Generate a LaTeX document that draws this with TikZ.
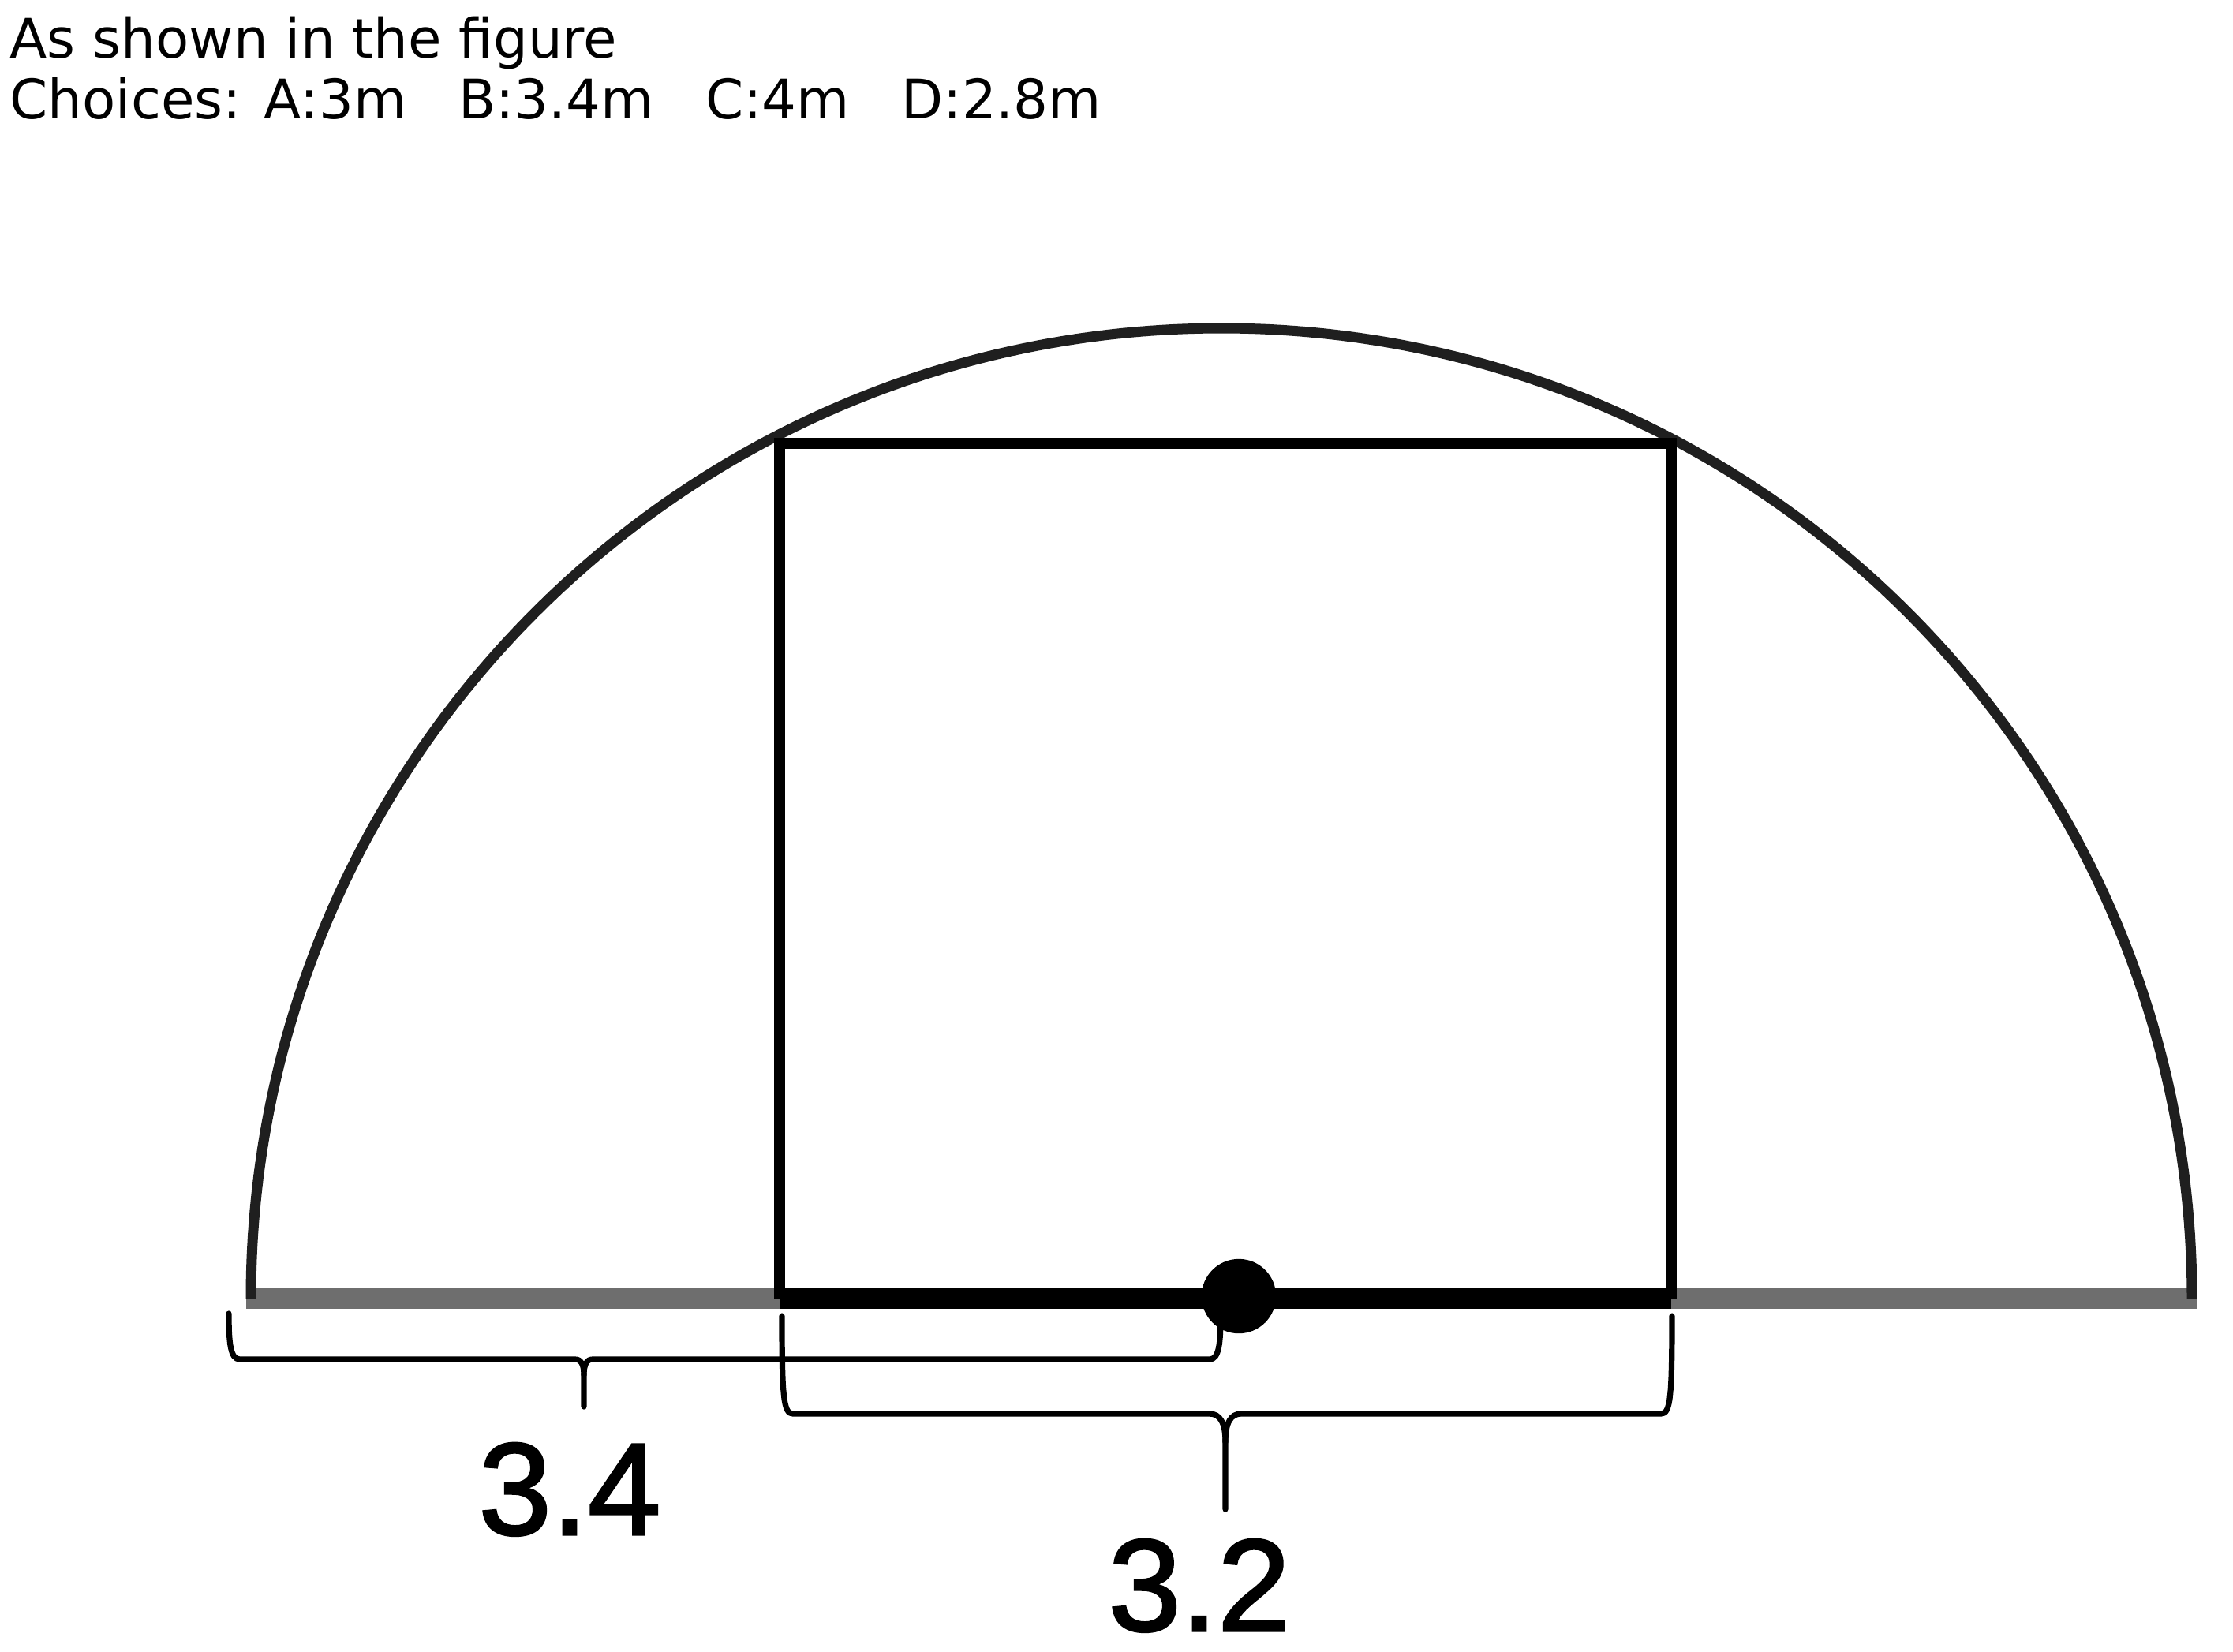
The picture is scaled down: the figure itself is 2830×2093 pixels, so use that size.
\documentclass[tikz,border=0pt]{standalone}
\usepackage{fontspec}
\setmainfont{DejaVu Sans}
\newfontfamily\labelfont[FakeBold=1.8]{Liberation Sans}
\newcommand{\bracedraw}[8]{%
  % #1 x1, #2 x2, #3 ytop, #4 yh, #5 xm, #6 ytip, #7 cusp half width, #8 cusp depth
  \draw[bracel] (#1,#3) .. controls (#1,#4-20) and (#1+2,#4) .. (#1+14,#4)
    -- (#5-#7,#4) .. controls (#5-#7*0.35,#4) and (#5,#4+#8*0.3) .. (#5,#4+#8)
    -- (#5,#6);
  \draw[bracel] (#5,#4+#8) .. controls (#5,#4+#8*0.3) and (#5+#7*0.35,#4) .. (#5+#7,#4)
    -- (#2-14,#4) .. controls (#2-2,#4) and (#2,#4-20) .. (#2,#3);
}
\begin{document}
\begin{tikzpicture}[x=0.25pt,y=-0.25pt,
  titletext/.style={anchor=base west,inner sep=0pt,font=\fontsize{17.25}{20}\selectfont},
  dimlabel/.style={anchor=base,inner sep=0pt,font=\labelfont\fontsize{41.5}{48}\selectfont},
  arcline/.style={line width=3.25pt,draw=black!88},
  baseline/.style={line width=6.3pt,draw=black!57},
  rectline/.style={line width=3.4pt,draw=black},
  bracel/.style={line width=1.8pt,draw=black,line cap=round,line join=round},
]
\useasboundingbox (0,0) rectangle (2830,2093);
\fill[white] (0,0) rectangle (2830,2093);

% title
\node[titletext] (t1) at (12,73) {As shown in the figure};
\node[titletext] (t2) at (12,150) {Choices: A:3m\ \ \ B:3.4m\ \ \ C:4m\ \ \ D:2.8m};

% key points
\coordinate (C) at (1548,1646);
\coordinate (L) at (318,1646);
\coordinate (R) at (2778,1646);
\coordinate (RA) at (988,1646);
\coordinate (RB) at (2118,1646);
\coordinate (RC) at (2118,562);
\coordinate (RD) at (988,562);

% baseline (diameter)
\draw[baseline] (312,1646) -- (2784,1646);
% semicircle
\draw[arcline] (L) arc[start angle=180, end angle=0, radius=307.5pt];
% rectangle
\draw[rectline] (RA) -- (RD) -- (RC) -- (RB);
\draw[line width=6.3pt,draw=black] (RA) -- (RB);
% centre dot
\fill[black] (1570,1643) circle[radius=11.8pt];

% braces
\bracedraw{290}{1547}{1665}{1723}{740}{1783}{11}{20}
\bracedraw{991}{2119}{1668}{1792}{1553}{1913}{20}{36}

% labels
\node[dimlabel] (l34) at (722,1945) {3.4};
\node[dimlabel] (l32) at (1520,2067) {3.2};
\end{tikzpicture}
\end{document}
